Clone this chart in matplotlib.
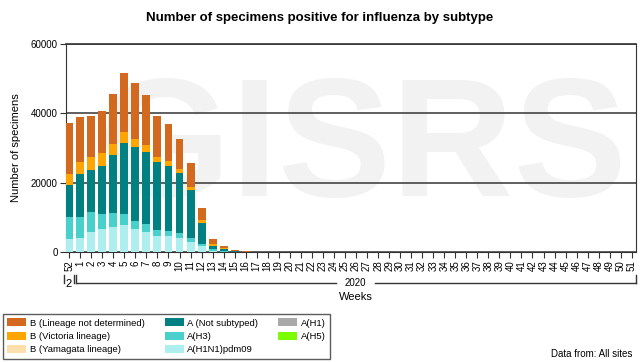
import numpy as np
import matplotlib.pyplot as plt
from matplotlib.patches import Patch
import matplotlib.transforms as mtransforms

plt.rcParams['font.family'] = ['Liberation Sans', 'DejaVu Sans']

# week labels: week 52 of 2019, then weeks 1-51 of 2020
weeks = ['52'] + [str(w) for w in range(1, 52)]

# values (number of specimens), weeks 52, 1..17; rest small / zero
h1n1 = [3700, 3900, 5900, 6550, 7250, 7900, 6650, 5800, 4650, 4650, 4150, 2900, 1650, 400, 100, 20, 10, 0]
h3 = [6250, 6200, 5600, 4450, 3950, 3000, 2400, 2200, 1650, 1450, 1350, 1050, 600, 350, 150, 30, 10, 0]
a_nst = [9350, 12350, 12250, 13800, 16700, 20650, 21150, 20850, 19600, 18800, 17200, 13800, 6150, 1100, 600, 100, 30, 30]
b_vic = [3200, 3400, 3550, 3650, 3300, 3100, 2500, 2050, 1650, 1350, 1350, 950, 750, 350, 150, 50, 20, 20]
b_nd = [14700, 13000, 11900, 12250, 14400, 16900, 16200, 14300, 11850, 10700, 8500, 6850, 3400, 1600, 650, 400, 100, 80]
b_yam = [0] * 18
a_h1 = [0] * 18
a_h5 = [0] * 18

# late-year weeks with a handful of B (not determined)
late_b_nd = {46: 120, 47: 120, 49: 100}

n = len(weeks)


def pad(vals):
    return np.array(vals + [0] * (n - len(vals)), dtype=float)


h1n1, h3, a_nst = pad(h1n1), pad(h3), pad(a_nst)
b_vic, b_nd, b_yam = pad(b_vic), pad(b_nd), pad(b_yam)
a_h1, a_h5 = pad(a_h1), pad(a_h5)
for wk, v in late_b_nd.items():
    b_nd[weeks.index(str(wk))] = v

series = [
    ('A(H1N1)pdm09', h1n1, '#aeeeee'),
    ('A(H3)', h3, '#48d1cc'),
    ('A (Not subtyped)', a_nst, '#008080'),
    ('A(H1)', a_h1, '#a9a9a9'),
    ('A(H5)', a_h5, '#7cfc00'),
    ('B (Yamagata lineage)', b_yam, '#ffdead'),
    ('B (Victoria lineage)', b_vic, '#ffa500'),
    ('B (Lineage not determined)', b_nd, '#d2691e'),
]

fig = plt.figure(figsize=(6.4, 3.62), dpi=100)
ax = fig.add_axes([0.103, 0.304, 0.891, 0.574])

# watermark
ax.text(0.52, 0.48, 'GISRS', transform=ax.transAxes, ha='center', va='center',
        fontsize=122, fontweight='bold', color='#f2f2f2', zorder=0, clip_on=True)

x = np.arange(n)
bottom = np.zeros(n)
for name, vals, col in series:
    ax.bar(x, vals, width=0.72, bottom=bottom, color=col, edgecolor='none', zorder=3)
    bottom += vals

ax.set_xlim(-0.3, 51.4)
ax.set_ylim(0, 60000)
ax.set_yticks([0, 20000, 40000, 60000])
ax.set_yticklabels(['0', '20000', '40000', '60000'], fontsize=7)
ax.yaxis.grid(True, color='#444444', linewidth=1.2, zorder=1)
ax.set_axisbelow(True)
ax.set_xticks(x)
ax.set_xticklabels(weeks, rotation=90, fontsize=7)
ax.tick_params(axis='x', length=4, pad=2, color='#333333')
ax.tick_params(axis='y', length=4, pad=2, color='#333333')
for s in ['top', 'right', 'left', 'bottom']:
    ax.spines[s].set_color('#333333')
ax.spines['top'].set_linewidth(1.2)
ax.set_ylabel('Number of specimens', fontsize=8, labelpad=7)
fig.text(0.5, 0.95, 'Number of specimens positive for influenza by subtype',
         ha='center', va='center', fontsize=9.5, fontweight='bold')

# year brackets below the week labels
trans = mtransforms.blended_transform_factory(ax.transData, ax.transAxes)
yb = -0.148
kw = dict(transform=trans, clip_on=False, color='#333333', linewidth=1)
ax.plot([-0.5, -0.5], [yb, yb + 0.035], **kw)
ax.plot([0.45, 0.45], [yb, yb + 0.035], **kw)
ax.text(-0.05, yb - 0.005, '2', transform=trans, ha='center', va='center', fontsize=8)
ax.plot([0.6, 0.6], [yb, yb + 0.035], **kw)
ax.plot([0.6, 24.2], [yb, yb], **kw)
ax.plot([27.7, 51.4], [yb, yb], **kw)
ax.plot([51.4, 51.4], [yb, yb + 0.035], **kw)
ax.text(25.95, yb, '2020', transform=trans, ha='center', va='center', fontsize=7)
ax.text(25.95, yb - 0.07, 'Weeks', transform=trans, ha='center', va='center', fontsize=8)

# legend
order = ['B (Lineage not determined)', 'B (Victoria lineage)', 'B (Yamagata lineage)',
         'A (Not subtyped)', 'A(H3)', 'A(H1N1)pdm09', 'A(H1)', 'A(H5)']
colors = {name: col for name, _, col in series}
handles = [Patch(facecolor=colors[o], edgecolor='none') for o in order]
# pad third column to keep three rows
handles.append(Patch(facecolor='none', edgecolor='none'))
labels = order + ['']
leg = fig.legend(handles, labels, loc='lower left', bbox_to_anchor=(0.004, 0.008),
                 ncol=3, fontsize=6.8, frameon=True, fancybox=False, edgecolor='#333333',
                 handlelength=2.0, handleheight=0.9, columnspacing=2.1, labelspacing=0.45,
                 borderpad=0.5, handletextpad=0.4, borderaxespad=0)
leg.get_frame().set_linewidth(1)

fig.text(0.988, 0.008, 'Data from: All sites', ha='right', va='bottom', fontsize=7)

fig.savefig('out.png', dpi=100)
